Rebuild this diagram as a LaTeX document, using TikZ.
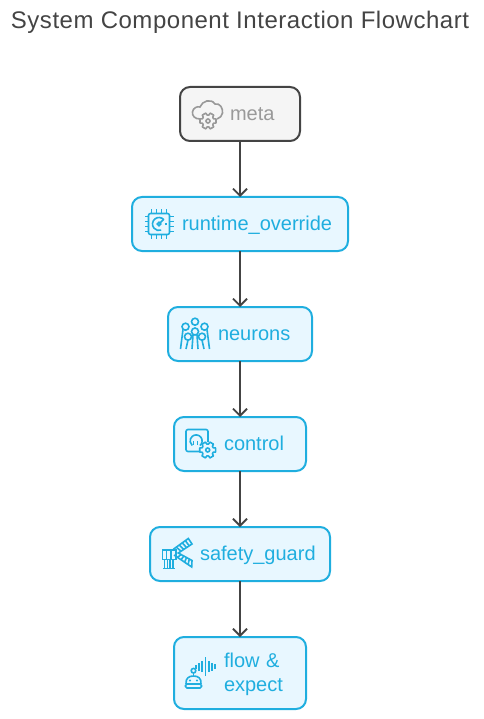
\documentclass[tikz,border=0pt]{standalone}
\usepackage{fontspec}
\setmainfont{Liberation Sans}
\usetikzlibrary{arrows.meta, positioning, calc}
\definecolor{boxblue}{HTML}{1FAEDF}
\definecolor{boxfill}{HTML}{E8F7FF}
\definecolor{linegrey}{HTML}{444444}
\definecolor{metafill}{HTML}{F5F5F5}
\definecolor{metatext}{HTML}{999999}
\definecolor{titlegrey}{HTML}{444444}
\newcommand{\icongap}{\hspace*{34pt}\rule[-4.6pt]{0pt}{22.6pt}}

\tikzset{
  gearicon/.pic={
    \draw[pic actions, line join=round] (-14:8.2) \foreach \a in {0,60,...,300} {
      -- (\a-14:8.2) -- (\a+14:8.2) -- (\a+22:6) -- (\a+38:6) } -- cycle;
    \draw (0,0) circle (2);
  },
  chipicon/.pic={
    \draw[rounded corners=2pt] (-10.5,-10.5) rectangle (10.5,10.5);
    \foreach \p in {-7.5,-2.5,2.5,7.5} {
      \draw (\p,10.5) -- (\p,14.5);
      \draw (\p,-10.5) -- (\p,-14.5);
      \draw (10.5,\p) -- (14.5,\p);
      \draw (-10.5,\p) -- (-14.5,\p);
    }
    \draw (40:6.5) arc (40:290:6.5);
    \draw (0,0) circle (1.8);
    \draw (1.2,1.2) -- (4.5,4.5);
    \draw (7,-1) -- (7,1.5);
  },
  atomicon/.pic={
    \foreach \x/\y in {0/12.3,-9.5/7.3,9.5/7.3,0/2.5,-7/-2.7,7/-2.7}
      \draw (\x,\y) circle (3.5);
    \draw (-12,4.5) -- (-14.5,-15) (-7,-6) -- (-9,-15) (-2,-1) -- (-3,-15);
    \draw (12,4.5) -- (14.5,-15) (7,-6) -- (9,-15) (2,-1) -- (3,-15);
  },
  socketicon/.pic={
    \draw[rounded corners=2pt] (-1,-7.5) -- (-15,-7.5) -- (-15,14.5) -- (7,14.5) -- (7,2);
    \draw (-1,-1.5) arc (-50:230:6);
    \draw (-7.5,3) -- (-7.5,-1) (-3.5,3) -- (-3.5,-1);
    \pic[fill=boxfill] at (6.7,-6) {gearicon};
  },
  barriericon/.pic={
    \draw (-3.7,4.7) -- (11.3,15.5) -- (15,10) -- (1.3,1) -- (15,-6.5) -- (14.7,-13) -- (-3,-1);
    \foreach \t in {0.2,0.4,0.6,0.8} {
      \draw ($(-3.7,4.7)!\t!(11.3,15.5)$) -- ($(1.3,1)!\t!(15,10)$);
      \draw ($(-3,-1)!\t!(14.7,-13)$) -- ($(1.3,1)!\t!(15,-6.5)$);
    }
    \draw (-14.7,4) rectangle (-1.3,-5.3);
    \foreach \x in {-10.5,-6}
      \draw (\x,4) -- (\x,-5.3);
    \draw (-12.5,-5.3) -- (-12.5,-14) (-9.5,-5.3) -- (-9.5,-14);
    \draw (-7,-5.3) -- (-7,-14) (-4,-5.3) -- (-4,-14);
    \draw (-14,-14.3) -- (-2.5,-14.3);
  },
  roboticon/.pic={
    \draw (-15,-11) .. controls (-15.5,-5) and (-12,-3) .. (-7.5,-3) .. controls (-3,-3) and (0.5,-5) .. (0,-11);
    \draw[rounded corners=1.5pt] (-15.5,-11) rectangle (0.5,-15);
    \draw (-7.5,2.3) circle (2.3);
    \draw (-7.5,0) -- (-7.5,-3);
    \fill (-11,-7.5) circle (1.1) (-4,-7.5) circle (1.1);
    \foreach \x/\h in {-5/2,-1.8/4,1/5.5,4.6/9.5,8.2/5.5,11/4,14/2.5}
      \draw (\x,6.5-\h) -- (\x,6.5+\h);
  },
  cloudicon/.pic={
    \draw (-8,-5) .. controls (-13,-5) and (-16,-2) .. (-15.5,2) .. controls (-15,6) and (-11,8) .. (-8,7) .. controls (-6,13) and (3,16) .. (7,10) .. controls (12,11) and (15,6) .. (14.5,1) .. controls (14,-2) and (12,-4) .. (9,-5);
    \pic[fill=metafill] at (0,-7) {gearicon};
  }
}

\begin{document}
\begin{tikzpicture}[
  x=1pt, y=1pt,
  node distance=56pt,
  box/.style={draw=boxblue, fill=boxfill, text=boxblue, line width=2pt, rounded corners=10pt, align=left, outer sep=0pt,
    minimum height=54pt, inner xsep=16pt, inner ysep=0pt, text width=#1-32pt, font=\fontsize{20}{24}\selectfont},
  metabox/.style={box=#1, draw=linegrey, fill=metafill, text=metatext},
  arrow/.style={-{Straight Barb[length=7pt, width=14pt, line width=1.8pt]}, draw=linegrey, line width=1.8pt},
  icon/.style={color=boxblue, line width=1.6pt},
  metaicon/.style={color=metatext, line width=1.6pt}
]

\useasboundingbox (0,0) rectangle (483,-719);

\node[font=\fontsize{24}{28}\selectfont\addfontfeature{LetterSpace=2.2}, text=titlegrey, inner sep=0pt, anchor=base] (title) at (240,-29) {System Component Interaction Flowchart};

\node[metabox=120pt] (meta) at (240,-114) {\icongap meta};
\node[box=216pt, below=of meta] (runtime) {\icongap runtime\_override};
\node[box=144pt, below=of runtime] (neurons) {\icongap neurons};
\node[box=132pt, below=of neurons] (control) {\icongap control};
\node[box=180pt, below=of control] (safety) {\icongap safety\_guard};
\node[box=132pt, minimum height=72pt, below=of safety] (flow) {\icongap flow \&\\\icongap expect};

\draw[arrow] (meta) -- (runtime);
\draw[arrow] (runtime) -- (neurons);
\draw[arrow] (neurons) -- (control);
\draw[arrow] (control) -- (safety);
\draw[arrow] (safety) -- (flow);

\begin{scope}[icon]
\pic at ([xshift=27pt]runtime.west) {chipicon};
\pic at ([xshift=27pt]neurons.west) {atomicon};
\pic at ([xshift=27pt]control.west) {socketicon};
\pic at ([xshift=27pt]safety.west) {barriericon};
\pic at ([xshift=27pt]flow.west) {roboticon};
\end{scope}
\begin{scope}[metaicon]
\pic at ([xshift=28pt]meta.west) {cloudicon};
\end{scope}

\end{tikzpicture}
\end{document}
